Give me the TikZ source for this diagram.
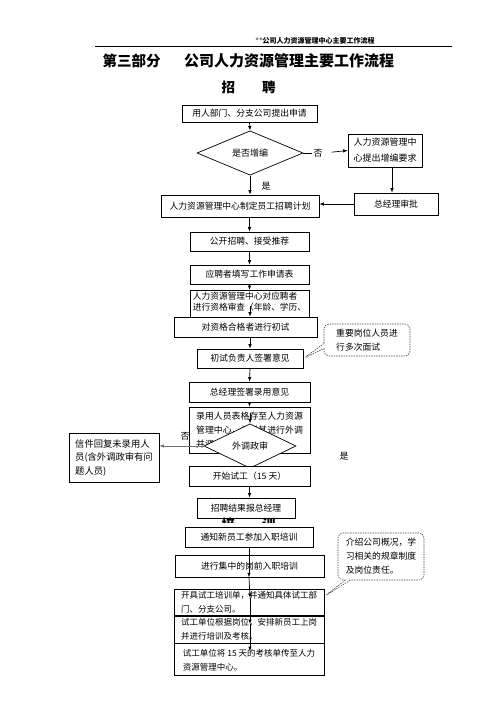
\documentclass[tikz,border=0pt]{standalone}
\usepackage{fontspec}
\setmainfont{Noto Sans CJK SC}
\usepackage{xcolor}
\usepackage{tikz}
\usetikzlibrary{arrows.meta,shapes.geometric,shapes.callouts}
\newcommand{\fsz}[2]{\fontsize{#1pt}{#2pt}\selectfont}

\begin{document}
\begin{tikzpicture}[x=1pt,y=-1pt,
  box/.style={draw,line width=0.7pt,fill=white,inner sep=2pt,font=\fsz{8.8}{11}},
  dia/.style={draw,diamond,line width=0.7pt,fill=white,inner sep=0pt,font=\fsz{9}{11}},
  note/.style={rectangle callout,draw=black!70,line width=0.6pt,dash pattern=on 1.5pt off 1pt,
    rounded corners=5pt,fill=white,align=left,font=\fsz{8.8}{14},callout pointer width=5pt},
  lbl/.style={font=\fsz{9}{11},inner sep=1pt},
  arr/.style={-{Latex[length=4.5pt,width=3.5pt]},line width=0.7pt}]
  \useasboundingbox (0,0) rectangle (496,702);
  \node[font=\fsz{7}{8}\bfseries] (hdr) at (315,41) {\textcolor{black!55}{**}公司人力资源管理中心主要工作流程};
  \draw[line width=0.8pt] (95,46) -- (452,46);
  \node[font=\fsz{14.5}{16}\bfseries] (part) at (131.5,61) {第三部分};
  \node[font=\fsz{15}{16}\bfseries] (title) at (289,61) {公司人力资源管理主要工作流程};
  \node[font=\fsz{13.5}{15}\bfseries] (recruit) at (248.5,87) {招　　聘};

  \node[box,minimum width=135pt,minimum height=17pt] (apply) at (249.5,113.5) {用人部门、分支公司提出申请};
  \node[dia,minimum width=106pt,minimum height=36pt] (addq) at (250,153) {是否增编};
  \node[lbl] (no1) at (318,153) {否};
  \node[box,align=left,font=\fsz{9}{16},minimum width=74pt,minimum height=33pt] (hrreq) at (385,150.5) {人力资源管理中\\心提出增编要求};
  \node[box,minimum width=84pt,minimum height=22pt] (gmok) at (396,204) {总经理审批};
  \node[box,minimum width=158pt,minimum height=22pt] (plan) at (240,206) {人力资源管理中心制定员工招聘计划};
  \node[lbl] (yes1) at (266,186) {是};
  \node[box,minimum width=119pt,minimum height=19pt] (open) at (249.5,241.5) {公开招聘、接受推荐};
  \node[box,minimum width=119pt,minimum height=19pt] (form) at (249.5,274.5) {应聘者填写工作申请表};
  \node[box,anchor=north,align=left,font=\fsz{8.7}{11},inner ysep=1.5pt,minimum width=119pt] (check) at (249.5,290) {人力资源管理中心对应聘者\\进行资格审查（年龄、学历、\\\mbox{}};
  \coordinate (checkin) at (250,306);
  \node[box,minimum width=143pt,minimum height=20pt] (first) at (245.5,327) {对资格合格者进行初试};
  \node[box,minimum width=106pt,minimum height=19pt] (sign) at (250,358.5) {初试负责人签署意见};
  \node[note,minimum width=86pt,minimum height=32pt,callout absolute pointer={(sign.east)}] (multi) at (367,340) {重要岗位人员进\\行多次面试};
  \node[box,minimum width=121pt,minimum height=20pt] (gmsign) at (249.5,392) {总经理签署录用意见};
  \node[box,align=left,font=\fsz{8.9}{14},minimum width=121pt,minimum height=46pt] (file) at (249.5,430) {录用人员表格存至人力资源\\管理中心，并对其进行外调\\并调};
  \coordinate (filein) at (250,413);
  \node[dia,minimum width=92pt,minimum height=38pt] (vet) at (250,446) {外调政审};
  \node[lbl] (no2) at (185,436) {否};
  \node[box,align=left,font=\fsz{9.3}{13.5},minimum width=90pt,minimum height=49pt] (reject) at (114,457.5) {信件回复未录用人\\员(含外调政审有问\\题人员)};
  \node[lbl] (yes2) at (344,456) {是};
  \node[box,minimum width=121pt,minimum height=20pt] (trial) at (249.5,476) {开始试工（15 天）};
  \node[box,minimum width=98pt,minimum height=20pt] (report) at (246,508) {招聘结果报总经理};
  \begin{scope}
    \clip (0,517) rectangle (496,522.5);
    \node[font=\fsz{13.5}{15}\bfseries] (train) at (248.5,524.5) {培　　训};
  \end{scope}
  \node[box,minimum width=128pt,minimum height=20pt] (notify) at (249,537) {通知新员工参加入职培训};
  \node[box,minimum width=149pt,minimum height=22pt] (induct) at (249.5,566) {进行集中的岗前入职培训};
  \node[box,anchor=north,align=left,font=\fsz{8.5}{14},minimum width=150pt,minimum height=26pt] (sheet) at (249,589) {开具试工培训单，并通知具体试工部\\门、分支公司。};
  \node[box,anchor=north,align=left,font=\fsz{8.5}{14},minimum width=150pt,minimum height=27pt] (dept) at (sheet.south) {试工单位根据岗位，安排新员工上岗\\并进行培训及考核。};
  \node[box,anchor=north,align=left,font=\fsz{8.5}{14},minimum width=150pt,minimum height=32pt] (back) at (dept.south) {试工单位将 15 天的考核单传至人力\\资源管理中心。};
  \node[note,minimum width=86pt,minimum height=47pt,callout absolute pointer={([yshift=6pt]sheet.east)}] (intro) at (381,556.5) {介绍公司概况，学\\习相关的规章制度\\及岗位责任。};
  \coordinate (sheetin) at (250,598);
  \coordinate (deptin) at (250,624);
  \coordinate (backin) at (250,651);

  \draw[arr] (apply.south) -- (addq.north);
  \draw[line width=0.7pt] (addq.east) -- (no1.west);
  \draw[arr,shorten <=8pt] (no1.east) -- (hrreq.west);
  \draw[arr] ([xshift=7pt]hrreq.south) -- ([xshift=7pt]hrreq.south |- gmok.north);
  \draw[arr] (gmok.west) -- (gmok.west -| plan.east);
  \draw[arr] (addq.south) -- (addq.south |- plan.north);
  \draw[arr] (open.north |- plan.south) -- (open.north);
  \draw[arr] (open.south) -- (form.north);
  \draw[arr] (form.south) -- (check.north);
  \draw[arr] (checkin) -- (checkin |- first.north);
  \draw[arr] (first.south -| sign.north) -- (sign.north);
  \draw[arr] (sign.south) -- (gmsign.north);
  \draw[arr] (gmsign.south) -- (file.north);
  \draw[arr] (filein) -- (vet.north);
  \draw[arr,black!55] (vet.west) -- (vet.west -| reject.east);
  \draw[arr] (trial.south) -- (trial.south |- report.north);
  \draw[arr] (notify.south) -- (notify.south |- induct.south);
  \draw[arr] (notify.south |- induct.south) -- (sheetin);
  \draw[arr] (sheetin) -- (deptin);
  \draw[arr] (deptin) -- (backin);
\end{tikzpicture}
\end{document}
